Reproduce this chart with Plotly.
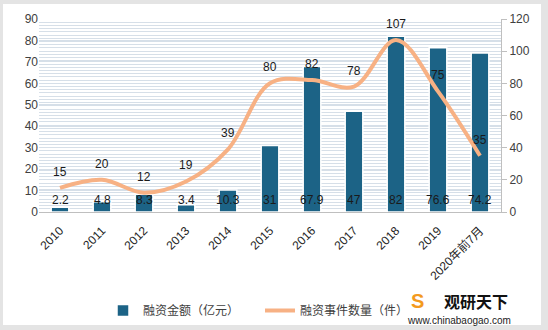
import plotly.graph_objects as go

years = ["2010", "2011", "2012", "2013", "2014", "2015", "2016", "2017", "2018", "2019", "2020年前7月"]
amount = [2.2, 4.8, 8.3, 3.4, 10.3, 31, 67.9, 47, 82, 76.6, 74.2]
events = [15, 20, 12, 19, 39, 80, 82, 78, 107, 75, 35]

FONT = "Liberation Sans, Noto Sans CJK SC, sans-serif"
CJK = "Noto Sans CJK SC, sans-serif"

W, H = 548, 330
L, R, T, B = 39, 47, 19, 118
PW, PH = W - L - R, H - T - B


def px_x(p):
    return (p - L) / PW


def px_y(p):
    return (H - B - p) / PH


fig = go.Figure()
fig.add_trace(go.Bar(
    x=years, y=amount, name="融资金额（亿元）",
    marker=dict(color="#1c6386", line=dict(color="white", width=1.5)),
    width=0.42, yaxis="y",
))
fig.add_trace(go.Scatter(
    x=years, y=events, name="融资事件数量（件）", mode="lines",
    line=dict(color="#f7b184", width=4, shape="spline", smoothing=1.0),
    yaxis="y2",
))

annotations = []
for i, v in enumerate(amount):
    annotations.append(dict(
        x=i, y=0, xref="x", yref="y", text=str(v), showarrow=False,
        yanchor="middle", yshift=12, font=dict(size=12, color="#1a1a1a", family=FONT),
    ))
for i, v in enumerate(events):
    annotations.append(dict(
        x=i, y=v, xref="x", yref="y2", text=str(v), showarrow=False,
        yanchor="middle", yshift=16, font=dict(size=12, color="#1a1a1a", family=FONT),
    ))
annotations += [
    dict(text="<b>观研天下</b>", xref="paper", yref="paper", x=px_x(476), y=px_y(301),
         xanchor="center", yanchor="middle",
         showarrow=False, font=dict(size=16, color="#111111", family=CJK)),
    dict(text="www.chinabaogao.com", xref="paper", yref="paper", x=px_x(459), y=px_y(320),
         xanchor="center", yanchor="middle",
         showarrow=False, font=dict(size=10, color="#222222", family=FONT)),
    dict(text="<b>S</b>", xref="paper", yref="paper", x=px_x(417), y=px_y(301),
         xanchor="center", yanchor="middle",
         showarrow=False, font=dict(size=20, color="#f39a1e", family=FONT)),
]

fig.update_layout(
    width=W, height=H,
    margin=dict(l=L, r=R, t=T, b=B),
    paper_bgcolor="#e4e4e4",
    plot_bgcolor="#ffffff",
    font=dict(family=FONT, size=12, color="#404040"),
    xaxis=dict(
        type="category", range=[-0.5, len(years) - 0.5], tickangle=-45,
        showline=True, linecolor="#bfbfbf", linewidth=1, automargin=False,
        showgrid=False, ticks="", ticklabelstandoff=6,
        tickfont=dict(size=12, color="#262626", family=FONT),
    ),
    yaxis=dict(
        range=[0, 90], dtick=10, showline=False, ticks="", zeroline=False, automargin=False,
        showgrid=True, gridcolor="#d6dfe8", gridwidth=1,
        minor=dict(dtick=1.5, showgrid=True, gridcolor="#d6dfe8", gridwidth=1),
        tickfont=dict(size=12, color="#404040"),
    ),
    yaxis2=dict(
        range=[0, 120], dtick=20, overlaying="y", side="right", showline=True, automargin=False,
        linecolor="#bfbfbf", linewidth=1, ticks="outside", ticklen=5, tickcolor="#bfbfbf",
        showgrid=False, zeroline=False, tickfont=dict(size=12, color="#404040"),
    ),
    legend=dict(
        orientation="h", xref="container", yref="container",
        x=103 / W, y=1 - 296 / H, xanchor="left", yanchor="top",
        bgcolor="white", font=dict(size=12, family=CJK, color="#404040"),
        itemwidth=30, entrywidth=112, tracegroupgap=0,
    ),
    showlegend=True,
    shapes=[dict(
        type="rect", xref="paper", yref="paper", layer="below",
        x0=px_x(3), x1=px_x(541), y0=px_y(325), y1=px_y(4),
        fillcolor="white", line=dict(width=0),
    )],
    annotations=annotations,
)

fig.write_html("out.html")
